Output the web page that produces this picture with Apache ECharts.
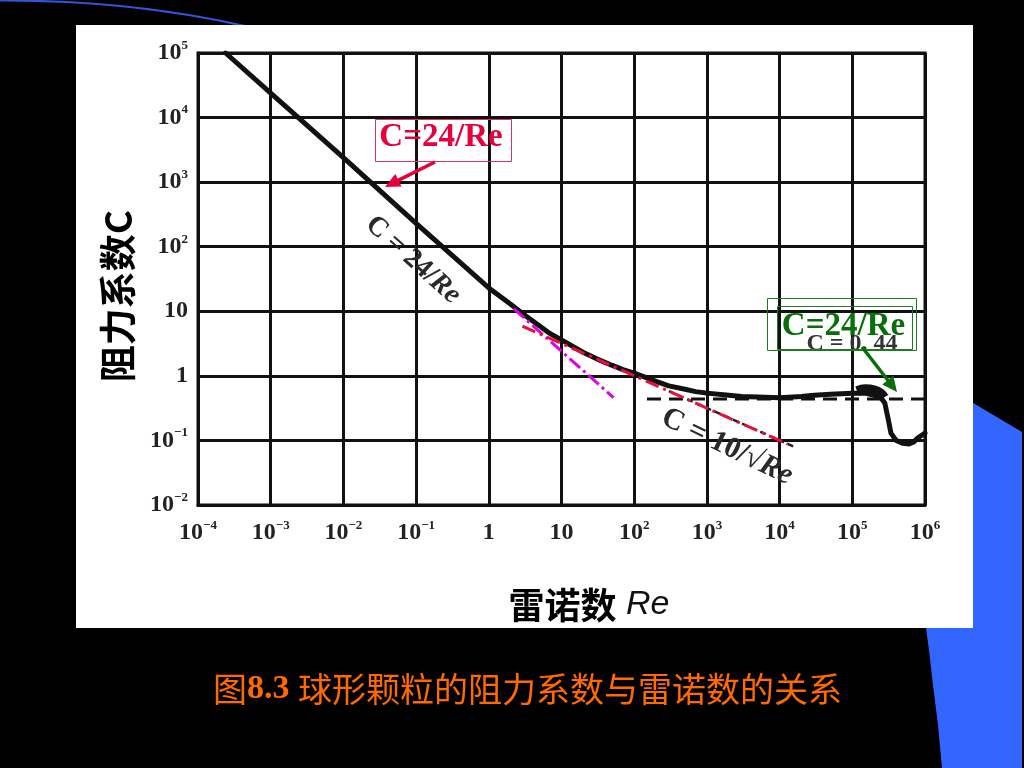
<!DOCTYPE html>
<html><head><meta charset="utf-8">
<script src="https://cdn.jsdelivr.net/npm/echarts@6/dist/echarts.min.js"></script>
<style>html,body{margin:0;padding:0;background:#000;} #c{width:1024px;height:768px;}</style>
</head><body><div id="c"></div>
<script>
// ---- data ----
const xTickExps = [-4, -3, -2, -1, 0, 1, 2, 3, 4, 5, 6];
const xTickLabels = [['10','−4'],['10','−3'],['10','−2'],['10','−1'],['1',''],['10',''],['10','2'],['10','3'],['10','4'],['10','5'],['10','6']];
const yTickExps = [-2, -1, 0, 1, 2, 3, 4, 5];
const yTickLabels = [['10','−2'],['10','−1'],['1',''],['10',''],['10','2'],['10','3'],['10','4'],['10','5']];

// standard drag curve C(Re)
const dragRe = [2.4e-4, 1e-3, 1e-2, 0.1, 0.3, 1, 2, 3, 5, 7, 10, 20, 30, 50, 70, 100, 200, 300, 500, 700, 1000, 2000, 3000, 5000, 1e4, 2e4, 3e4, 5e4, 1e5, 1.5e5, 2e5, 2.5e5, 2.8e5, 3.1e5, 3.4e5, 4e5, 5e5, 6e5, 7e5, 8e5, 1e6];
const dragC  = [1e5, 2.4e4, 2.4e3, 230, 77, 23, 12.8, 9, 5.9, 4.5, 3.6, 2.3, 1.85, 1.45, 1.25, 1.1, 0.82, 0.7, 0.62, 0.57, 0.54, 0.5, 0.48, 0.47, 0.46, 0.48, 0.5, 0.52, 0.54, 0.54, 0.5, 0.45, 0.38, 0.22, 0.13, 0.1, 0.09, 0.088, 0.095, 0.11, 0.13];
// thick blot of the scanned curve near Re ~ 1e5..3e5
const blotRe = [1.15e5, 1.5e5, 2e5, 2.5e5, 2.8e5];
const blotC  = [0.6, 0.64, 0.62, 0.55, 0.47];
// C = 0.44 dashed reference line
const c044Re = [150, 1e6];
const c044C  = [0.44, 0.44];
// printed C = 10/sqrt(Re) line
const printRe = [300, 1.7e4];
const printC  = [0.58, 0.077];
// magenta extension of C = 24/Re
const stokesRe = [2.2, 52];
const stokesC  = [11, 0.46];
// red dash-dot C = 10/sqrt(Re)
const allenRe = [2.9, 1.29e4];
const allenC  = [5.9, 0.088];

const pairs = (a, b) => a.map((v, i) => [v, b[i]]);

const serif = 'Liberation Serif, Times New Roman, serif';
const cjk = 'Noto Sans CJK SC, sans-serif';

function tickFmt(exps, labels) {
  return function (v) {
    const e = Math.round(Math.log10(v));
    const i = exps.indexOf(e);
    if (i < 0) return '';
    const [b, s] = labels[i];
    return s ? '{b|' + b + '}{s|' + s + '}' : '{b|' + b + '}';
  };
}
const tickRich = {
  b: { fontSize: 24, fontFamily: serif, fontWeight: 'bold', color: '#222', lineHeight: 28 },
  s: { fontSize: 13, fontFamily: serif, fontWeight: 'bold', color: '#222', lineHeight: 13, verticalAlign: 'top' }
};

function arrow(x1, y1, x2, y2, color, w) {
  const dx = x2 - x1, dy = y2 - y1, L = Math.hypot(dx, dy);
  const ux = dx / L, uy = dy / L, hl = 15, hw = 7;
  const bx = x2 - ux * hl, by = y2 - uy * hl;
  return [
    { type: 'line', z: 100, shape: { x1: x1, y1: y1, x2: bx + ux * 2, y2: by + uy * 2 }, style: { stroke: color, lineWidth: w } },
    { type: 'polygon', z: 100, shape: { points: [[x2, y2], [bx - uy * hw, by + ux * hw], [bx + uy * hw, by - ux * hw]] }, style: { fill: color } }
  ];
}

const chart = echarts.init(document.getElementById('c'), null, { renderer: 'canvas' });
const option = {
  backgroundColor: '#000',
  animation: false,
  grid: { left: 198, right: 99, top: 53, bottom: 263, show: true, backgroundColor: '#fff', borderColor: '#111', borderWidth: 3 },
  xAxis: {
    type: 'log', logBase: 10, min: 1e-4, max: 1e6, splitNumber: 10,
    axisLine: { show: true, lineStyle: { color: '#111', width: 3 } },
    axisTick: { show: false },
    splitLine: { show: true, lineStyle: { color: '#111', width: 3 } },
    minorTick: { show: false }, minorSplitLine: { show: false },
    axisLabel: { margin: 14, formatter: tickFmt(xTickExps, xTickLabels), rich: tickRich },
    name: '{a|雷诺数}{b| Re}', nameLocation: 'middle', nameGap: 82,
    nameTextStyle: {
      padding: [0, 0, 0, 55],
      rich: {
        a: { fontFamily: cjk, fontSize: 36, fontWeight: 'bold', color: '#000' },
        b: { fontFamily: 'Liberation Sans, Arial, sans-serif', fontStyle: 'italic', fontSize: 34, color: '#111' }
      }
    }
  },
  yAxis: {
    type: 'log', logBase: 10, min: 1e-2, max: 1e5, splitNumber: 7,
    axisLine: { show: true, lineStyle: { color: '#111', width: 3 } },
    axisTick: { show: false },
    splitLine: { show: true, lineStyle: { color: '#111', width: 3 } },
    minorTick: { show: false }, minorSplitLine: { show: false },
    axisLabel: { margin: 10, formatter: tickFmt(yTickExps, yTickLabels), rich: tickRich },
    name: '阻力系数C', nameLocation: 'middle', nameRotate: 90, nameGap: 62,
    nameTextStyle: { fontFamily: cjk, fontSize: 37, fontWeight: 'bold', color: '#000', padding: [0, 34, 0, 0] }
  },
  series: [
    { name: 'C', type: 'line', data: pairs(dragRe, dragC), showSymbol: false, z: 5,
      lineStyle: { color: '#111', width: 5, join: 'round', cap: 'round' } },
    { name: 'blot', type: 'line', data: pairs(blotRe, blotC), showSymbol: false, smooth: 0.4, z: 5,
      lineStyle: { color: '#111', width: 8 } },
    { name: 'C=0.44', type: 'line', data: pairs(c044Re, c044C), showSymbol: false, z: 4,
      lineStyle: { color: '#111', width: 3, type: [14, 8] } },
    { name: 'printed 10/√Re', type: 'line', data: pairs(printRe, printC), showSymbol: false, z: 4,
      lineStyle: { color: '#222', width: 2.5, type: [6, 4] } },
    { name: '24/Re', type: 'line', data: pairs(stokesRe, stokesC), showSymbol: false, z: 6,
      lineStyle: { color: '#E000E0', width: 3, type: [14, 4, 3, 4] } },
    { name: '10/√Re', type: 'line', data: pairs(allenRe, allenC), showSymbol: false, z: 6,
      lineStyle: { color: '#E8103C', width: 3, type: [14, 5, 3, 5] } }
  ],
  graphic: [
    // slide decorations
    { type: 'polygon', z: -100, shape: { points: [[926, 375], [1022, 432], [1022, 768], [942, 768], [938, 725], [933, 685], [929, 650], [926, 628]] }, style: { fill: '#3366FF' } },
    { type: 'bezierCurve', z: -90, shape: { x1: 0, y1: 0.5, cpx1: 130, cpy1: 0, x2: 245, y2: 26 }, style: { stroke: '#3355DD', lineWidth: 2, fill: null } },
    { type: 'rect', z: -80, shape: { x: 76, y: 25, width: 897, height: 603 }, style: { fill: '#fff' } },
    // printed rotated labels of the scanned figure
    { type: 'text', z: 50, x: 413, y: 260, rotation: -0.73,
      style: { text: 'C = 24/{i|Re}', fontFamily: serif, fontWeight: 'bold', fontSize: 28, fill: '#2a2a2a', align: 'center', verticalAlign: 'middle',
        rich: { i: { fontFamily: serif, fontStyle: 'italic', fontWeight: 'bold', fontSize: 28, fill: '#2a2a2a' } } } },
    { type: 'text', z: 50, x: 727, y: 447, rotation: -0.45,
      style: { text: 'C = 10/√{i|Re}', fontFamily: serif, fontWeight: 'bold', fontSize: 30, fill: '#2a2a2a', align: 'center', verticalAlign: 'middle',
        rich: { i: { fontFamily: serif, fontStyle: 'italic', fontWeight: 'bold', fontSize: 30, fill: '#2a2a2a' } } } },
    { type: 'text', z: 50, x: 852, y: 344,
      style: { text: 'C = 0. 44', fontFamily: serif, fontWeight: 'bold', fontSize: 24, fill: '#333', align: 'center', verticalAlign: 'middle' } },
    // red annotation
    { type: 'rect', z: 100, shape: { x: 375.5, y: 119.5, width: 136, height: 42 }, style: { fill: 'rgba(255,255,255,0)', stroke: '#D2375F', lineWidth: 1 } },
    { type: 'text', z: 101, x: 441, y: 137,
      style: { text: 'C=24/Re', fontFamily: serif, fontWeight: 'bold', fontSize: 33, fill: '#E6003C', align: 'center', verticalAlign: 'middle' } },
    ...arrow(435, 162, 385, 187, '#E6003C', 3.5),
    // green annotation
    { type: 'rect', z: 100, shape: { x: 767.5, y: 298.5, width: 149, height: 52 }, style: { fill: 'rgba(255,255,255,0)', stroke: '#1E7A1E', lineWidth: 1 } },
    { type: 'rect', z: 100, shape: { x: 777.5, y: 306.5, width: 135, height: 43 }, style: { fill: 'rgba(255,255,255,0)', stroke: '#1E7A1E', lineWidth: 1 } },
    { type: 'text', z: 101, x: 843.5, y: 326,
      style: { text: 'C=24/Re', fontFamily: serif, fontWeight: 'bold', fontSize: 33, fill: '#0A6E0A', align: 'center', verticalAlign: 'middle' } },
    ...arrow(862, 347, 897, 392, '#0A6E0A', 3.5),
    // caption
    { type: 'text', z: 100, x: 213, y: 689,
      style: { text: '{a|图}{b|8.3 }{a|球形颗粒的阻力系数与雷诺数的关系}', verticalAlign: 'middle',
        rich: {
          a: { fontFamily: cjk, fontSize: 34, fill: '#FF6A00', fontWeight: 'normal' },
          b: { fontFamily: serif, fontSize: 34, fill: '#FF6A00', fontWeight: 'bold' }
        } } }
  ]
};
chart.setOption(option);
</script>
</body></html>
